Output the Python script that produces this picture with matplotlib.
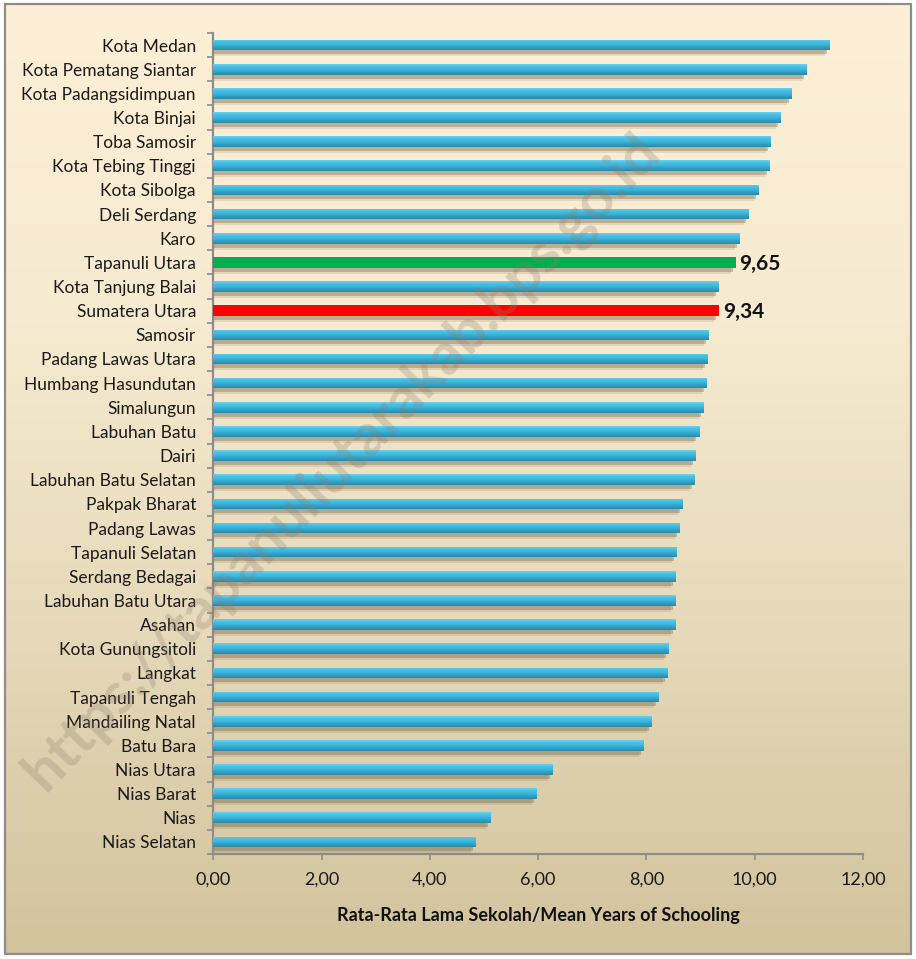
import numpy as np
import matplotlib
matplotlib.use("Agg")
import matplotlib.pyplot as plt
from matplotlib import transforms
from matplotlib.patches import Rectangle
from matplotlib.colors import LinearSegmentedColormap

plt.rcParams["font.family"] = ["Lato", "DejaVu Sans"]

# Mean years of schooling by regency / city, North Sumatra
regions = [
    "Kota Medan", "Kota Pematang Siantar", "Kota Padangsidimpuan", "Kota Binjai",
    "Toba Samosir", "Kota Tebing Tinggi", "Kota Sibolga", "Deli Serdang", "Karo",
    "Tapanuli Utara", "Kota Tanjung Balai", "Sumatera Utara", "Samosir",
    "Padang Lawas Utara", "Humbang Hasundutan", "Simalungun", "Labuhan Batu",
    "Dairi", "Labuhan Batu Selatan", "Pakpak Bharat", "Padang Lawas",
    "Tapanuli Selatan", "Serdang Bedagai", "Labuhan Batu Utara", "Asahan",
    "Kota Gunungsitoli", "Langkat", "Tapanuli Tengah", "Mandailing Natal",
    "Batu Bara", "Nias Utara", "Nias Barat", "Nias", "Nias Selatan",
]
rls = [
    11.39, 10.96, 10.68, 10.48, 10.30, 10.28, 10.07, 9.89, 9.72,
    9.65, 9.34, 9.34, 9.15, 9.13, 9.11, 9.06, 8.98, 8.91, 8.89,
    8.67, 8.62, 8.56, 8.54, 8.54, 8.54, 8.41, 8.39, 8.23, 8.10,
    7.95, 6.27, 5.97, 5.13, 4.85,
]
highlight_colors = {"Tapanuli Utara": "#00B050", "Sumatera Utara": "#FF0000"}
value_labels = {"Tapanuli Utara": "9,65", "Sumatera Utara": "9,34"}
xticks = [0, 2, 4, 6, 8, 10, 12]
xtick_labels = ["0,00", "2,00", "4,00", "6,00", "8,00", "10,00", "12,00"]
x_title = "Rata-Rata Lama Sekolah/Mean Years of Schooling"
watermark = "https://tapanuliutarakab.bps.go.id"

W, H = 916, 959
fig = plt.figure(figsize=(W / 100, H / 100), dpi=100)
fig.patch.set_facecolor("white")

# Background panel with vertical cream-to-tan gradient and grey frame
bg = fig.add_axes([0, 0, 1, 1], zorder=0)
bg.set_xlim(0, W)
bg.set_ylim(H, 0)
bg.axis("off")
grad = np.linspace(0, 1, 256).reshape(-1, 1)
bg_cmap = LinearSegmentedColormap.from_list(
    "panel", ["#FDF0D6", "#F6EAD0", "#E6D9B9", "#D2C39D"])
bg.imshow(grad, cmap=bg_cmap, extent=(5, 911, 954, 4), aspect="auto",
          interpolation="bilinear")
bg.add_patch(Rectangle((5, 4), 906, 950, fill=False, edgecolor="#8C8C8C", lw=1.6))

# Plot area
ax = fig.add_axes([213.3 / W, (H - 854) / H, (863 - 213.3) / W, (854 - 33) / H],
                  zorder=1)
ax.patch.set_alpha(0)

n = len(regions)
ypos = np.arange(n)
bar_h = 0.44

# soft drop shadow under each bar
for dx, dy, a in [(-3, -4, 0.32), (-5, -6, 0.14)]:
    sh_tr = transforms.offset_copy(ax.transData, fig=fig, x=dx, y=dy, units="dots")
    ax.barh(ypos, rls, height=bar_h, color="#6b5a3e", alpha=a, lw=0,
            transform=sh_tr, zorder=2)

colors = [highlight_colors.get(r, "#3AB4DA") for r in regions]
bars = ax.barh(ypos, rls, height=bar_h, color=colors, lw=0, zorder=3)

bar_cmap = LinearSegmentedColormap.from_list(
    "bar", ["#6CD2EF", "#48C1E5", "#3BB5DB", "#319FC3", "#2A88A8"])
for bar, name, v, y in zip(bars, regions, rls, ypos):
    if name in highlight_colors:
        continue
    im = ax.imshow(grad, cmap=bar_cmap, extent=(0, v, y + bar_h / 2, y - bar_h / 2),
                   aspect="auto", interpolation="bilinear", zorder=4)
    im.set_clip_path(bar)

for name, v, y in zip(regions, rls, ypos):
    if name in value_labels:
        ax.text(v + 0.07, y + 0.06, value_labels[name], ha="left", va="center",
                fontsize=15, fontweight="bold", color="#111111", zorder=5)

ax.set_xlim(0, 12)
ax.set_ylim(n - 0.5, -0.5)
ax.set_xticks(xticks)
ax.set_xticklabels(xtick_labels, fontsize=13, color="#1a1a1a")
ax.set_yticks(ypos)
ax.set_yticklabels(regions, fontsize=12.5, color="#1a1a1a")
ax.set_yticks(np.arange(n + 1) - 0.5, minor=True)
ax.tick_params(axis="y", which="major", length=0, pad=12.5)
ax.tick_params(axis="y", which="minor", length=4.3, width=1.2, color="#8C8C8C")
ax.tick_params(axis="x", which="major", length=4.5, width=1.2, color="#8C8C8C", pad=8)
for side in ("top", "right"):
    ax.spines[side].set_visible(False)
for side in ("left", "bottom"):
    ax.spines[side].set_color("#8C8C8C")
    ax.spines[side].set_linewidth(1.6)

fig.text(538 / W, 1 - 916 / H, x_title, ha="center", va="center",
         fontsize=13, fontweight="bold", color="#111111")

fig.text(342 / W, 1 - 462 / H, watermark, rotation=46, rotation_mode="anchor",
         ha="center", va="center", fontsize=42, fontweight="bold",
         color="#8b7f6e", alpha=0.28, zorder=10)

fig.savefig("out.png", dpi=100, facecolor=fig.get_facecolor())
